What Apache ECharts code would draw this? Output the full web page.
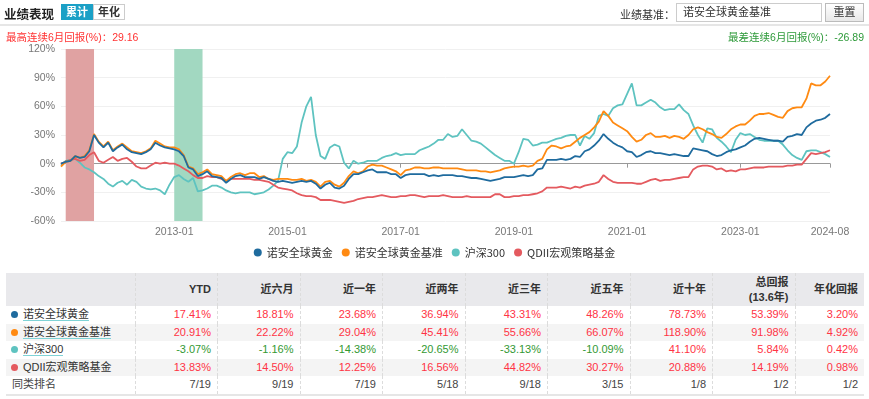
<!DOCTYPE html>
<html>
<head>
<meta charset="utf-8">
<script src="https://cdn.jsdelivr.net/npm/echarts@6/dist/echarts.min.js"></script>
<style>
  body { margin: 0; background: #fff; }
  #page { position: relative; width: 869px; height: 399px; overflow: hidden; background: #fff;
          font-family: 'Liberation Sans', Arial, 'Noto Sans CJK SC', sans-serif; color: #333; }
  #chart { position: absolute; left: 0; top: 0; width: 869px; height: 268px; }
  .abs { position: absolute; white-space: nowrap; }
  .title { left: 4px; top: 4px; font-size: 12.5px; font-weight: bold; color: #222; }
  .tab { top: 4px; width: 32px; height: 16px; line-height: 16px; text-align: center; font-size: 11px; font-weight: bold; box-sizing: border-box; }
  .tab.on { left: 61px; background: #1ba0c6; color: #fff; }
  .tab.off { left: 93px; border: 1px solid #ccc; color: #333; line-height: 14px; }
  .benchLabel { left: 620px; top: 6px; font-size: 11px; color: #333; }
  .benchInput { left: 676px; top: 3px; width: 146px; height: 19px; border: 1px solid #ccc; box-sizing: border-box;
                font-size: 11px; line-height: 17px; padding-left: 6px; color: #333; }
  .resetBtn { left: 825px; top: 3px; width: 39px; height: 19px; border: 1px solid #bbb; box-sizing: border-box;
              background: linear-gradient(#fff, #e8e8e8); font-size: 11px; line-height: 17px; text-align: center; color: #333; }
  .sep { left: 0; top: 24px; width: 869px; height: 2px; background: #e6e6e6; }
  .maxRet { left: 6px; top: 29px; font-size: 10.5px; color: #ff3333; }
  .minRet { right: 5px; top: 29px; font-size: 10.5px; color: #2e9a3a; }
  table { position: absolute; left: 6px; top: 273px; width: 858px; border-collapse: collapse; table-layout: fixed; font-size: 11px; }
  th { background: #e9e9ec; height: 33px; font-weight: bold; color: #333; text-align: right; padding: 0 6px; line-height: 15px; }
  td { height: 17.5px; padding: 0 6px; text-align: right; line-height: 17px; }
  th + th, td + td { border-left: 1px dashed #dcdcdc; }
  tbody tr:nth-child(even) td { background: #f4f4f4; }
  tbody tr:last-child td { border-bottom: 2px solid #e6e6e6; color: #444; }
  td.name { text-align: left; padding-left: 5px; }
  .dot { display: inline-block; width: 7px; height: 7px; border-radius: 50%; margin-right: 5px; vertical-align: 0px; }
  .link { border-bottom: 1.5px solid #7fd3d6; }
  .up { color: #ff3344; }
  .down { color: #339933; }
</style>
</head>
<body>
<div id="page">
  <div id="chart"></div>
  <div class="abs title">业绩表现</div>
  <div class="abs tab on">累计</div>
  <div class="abs tab off">年化</div>
  <div class="abs benchLabel">业绩基准：</div>
  <div class="abs benchInput">诺安全球黄金基准</div>
  <div class="abs resetBtn">重置</div>
  <div class="abs sep"></div>
  <div class="abs maxRet">最高连续6月回报(%)：29.16</div>
  <div class="abs minRet">最差连续6月回报(%)：-26.89</div>
  <table id="perf"></table>
</div>
<script>
// 月度累计收益(%)，2011-01 ~ 2024-08
var goldFund = [0,2,3,8,6,7,13,30,22,17,22,13,17,20,15,12,11,10,12,15,22,19,17,16,15,13,8,-4,-6,-13,-11,-8,-13,-14,-15,-20,-16,-13,-12,-14,-14,
  -14,-16,-14,-16,-18,-19,-18,-19,-20,-19,-18,-19,-18,-21,-26,-22,-20,-25,-26,-23,-16,-11,-11,-9,-7,-6,-9,-9,-9,-11,-11,-15,-12,-11,-11,-11,-11,-13,-12,-13,-12,
  -12,-12,-13,-13,-14,-15,-15,-16,-17,-18,-17,-16,-14,-14,-14,-13,-12,-13,-12,-6,-5,4,4,4,5,4,5,8,7,13,15,19,24,31,26,22,19,17,13,12,
  7,9,12,13,11,11,10,9,10,9,8,8,16,15,14,13,10,8,9,12,14,15,17,19,23,26,27,26,25,24,24,23,28,29,31,30,38,42,45,46,48,52];
var goldBench = [-3,2,3,8,6,8,14,31,23,18,23,14,18,21,17,13,12,11,13,16,24,21,18,17,17,15,9,-3,-5,-11,-9,-6,-11,-12,-13,-18,-14,-11,-10,-12,-10,
  -10,-14,-13,-16,-17,-16,-16,-16,-17,-17,-16,-18,-17,-19,-24,-19,-18,-22,-24,-20,-13,-8,-10,-8,-3,-1,-2,-2,-4,-6,-8,-12,-7,-6,-4,-4,-5,-5,-4,-4,-5,
  -5,-5,-5,-6,-7,-7,-7,-8,-8,-9,-8,-7,-5,-4,-3,-3,-2,-3,-2,3,5,15,19,18,16,18,19,23,27,30,33,38,44,55,50,43,40,37,34,28,
  23,25,30,32,28,28,29,27,29,28,26,30,36,38,36,33,31,28,27,31,36,39,41,41,45,50,52,52,53,51,49,48,55,58,59,59,68,84,82,82,86,92];
var hs300 = [-2,3,4,5,1,-4,-6,-9,-13,-16,-21,-24,-20,-18,-22,-17,-19,-24,-26,-27,-26,-28,-32,-22,-14,-12,-16,-19,-15,-29,-28,-26,-23,-23,-25,-28,-30,-31,-30,-30,-30,
  -32,-31,-30,-27,-23,-18,5,12,11,18,43,60,70,30,8,5,17,20,18,1,-5,3,0,1,3,3,3,6,8,9,11,9,10,10,10,14,16,18,21,25,25,
  31,28,29,36,30,24,23,21,17,13,9,6,3,3,0,12,26,25,19,20,22,22,24,26,27,29,30,30,19,29,26,32,50,52,50,58,61,62,73,84,
  61,61,64,67,64,59,56,57,57,62,56,52,40,30,22,37,36,27,23,18,12,25,32,30,31,28,25,24,24,24,24,20,14,9,6,4,13,14,14,12,10,7];
var qdiiMacro = [0,2,4,5,3,4,9,12,3,1,4,7,3,5,6,2,-3,-5,-5,-2,1,0,1,0,0,-2,-5,-8,-12,-15,-15,-13,-14,-14,-16,-18,-16,-16,-16,-16,-16,
  -17,-17,-18,-19,-22,-25,-26,-27,-28,-31,-33,-34,-34,-35,-38,-38,-38,-39,-40,-41,-40,-39,-37,-36,-35,-35,-34,-33,-34,-35,-35,-34,-34,-33,-33,-34,-35,-34,-34,-34,-33,
  -34,-35,-35,-35,-34,-35,-35,-35,-35,-35,-32,-32,-35,-35,-34,-34,-33,-33,-32,-31,-29,-25,-25,-25,-24,-25,-26,-24,-25,-23,-22,-21,-19,-12,-16,-19,-20,-20,-20,-20,
  -21,-21,-19,-17,-16,-18,-17,-17,-16,-15,-14,-14,-6,-3,-2,-2,-3,-6,-5,-8,-7,-8,-6,-6,-5,-4,-4,-4,-3,-3,-3,-3,-2,-2,-1,-1,5,11,10,11,12,14];

var seriesNames = ['诺安全球黄金', '诺安全球黄金基准', '沪深300', 'QDII宏观策略基金'];
var seriesColors = ['#1f6b9e', '#ff8a12', '#5ec3c0', '#e45a5f'];
var seriesZ = [6, 5, 3, 4];
var tickLabels = ['2013-01', '2015-01', '2017-01', '2019-01', '2021-01', '2023-01', '2024-08'];
var bestPeriod = ['2011-02', '2011-08'];
var worstPeriod = ['2013-01', '2013-07'];

// 表格
var tableCols = ['YTD', '近六月', '近一年', '近两年', '近三年', '近五年', '近十年', '总回报<br>(13.6年)', '年化回报'];
var goldFundRet = [17.41, 18.81, 23.68, 36.94, 43.31, 48.26, 78.73, 53.39, 3.20];
var goldBenchRet = [20.91, 22.22, 29.04, 45.41, 55.66, 66.07, 118.90, 91.98, 4.92];
var hs300Ret = [-3.07, -1.16, -14.38, -20.65, -33.13, -10.09, 41.10, 5.84, 0.42];
var qdiiMacroRet = [13.83, 14.50, 12.25, 16.56, 44.82, 30.27, 20.88, 14.19, 0.98];
var rankRow = ['7/19', '9/19', '7/19', '5/18', '9/18', '3/15', '1/8', '1/2', '1/2'];

// 月份
var months = [];
for (var i = 0; i < goldFund.length; i++) {
  var y = 2011 + Math.floor(i / 12), m = (i % 12) + 1;
  months.push(y + '-' + (m < 10 ? '0' + m : m));
}

var chart = echarts.init(document.getElementById('chart'));
var allData = [goldFund, goldBench, hs300, qdiiMacro];
var series = allData.map(function (d, k) {
  return {
    name: seriesNames[k],
    type: 'line',
    data: d,
    z: seriesZ[k],
    symbol: 'none',
    lineStyle: { width: 1.8, color: seriesColors[k] },
    itemStyle: { color: seriesColors[k] },
    emphasis: { disabled: true }
  };
});
// 最高/最差连续6月区间
series.push({
  name: 'period',
  type: 'line',
  data: [],
  z: 1,
  markArea: {
    silent: true,
    data: [
      [{ xAxis: bestPeriod[0], itemStyle: { color: '#e0a2a2' } }, { xAxis: bestPeriod[1] }],
      [{ xAxis: worstPeriod[0], itemStyle: { color: '#a2d8c1' } }, { xAxis: worstPeriod[1] }]
    ]
  }
});

chart.setOption({
  animation: false,
  grid: { left: 61, right: 39, top: 49, bottom: 47 },
  legend: {
    data: seriesNames,
    bottom: 5,
    left: 'center',
    icon: 'circle',
    itemWidth: 8,
    itemHeight: 8,
    itemGap: 9,
    textStyle: { fontSize: 11, color: '#333', fontFamily: 'Noto Sans CJK SC' }
  },
  xAxis: {
    type: 'category',
    data: months,
    boundaryGap: false,
    axisLine: { lineStyle: { color: '#999' } },
    axisTick: {
      length: 4,
      lineStyle: { color: '#999' },
      interval: function (idx, val) { return tickLabels.indexOf(val) >= 0; }
    },
    axisLabel: {
      color: '#777',
      fontSize: 10.5,
      margin: 6,
      interval: function (idx, val) { return tickLabels.indexOf(val) >= 0; }
    },
    splitLine: { show: false }
  },
  yAxis: {
    type: 'value',
    min: -60,
    max: 120,
    interval: 30,
    axisLine: { show: false },
    axisTick: { show: false },
    axisLabel: { formatter: '{value}%', color: '#777', fontSize: 10.5, margin: 6 },
    splitLine: { lineStyle: { color: '#f0f0f0' } }
  },
  series: series
});

// 表格绘制
function fmt(v) {
  return '<span class="' + (v < 0 ? 'down' : 'up') + '">' + v.toFixed(2) + '%</span>';
}
var html = '<colgroup><col style="width:129px">';
for (var c = 0; c < 8; c++) html += '<col style="width:82.5px">';
html += '<col style="width:69px"></colgroup>';
html += '<thead><tr><th></th>';
tableCols.forEach(function (t) { html += '<th>' + t + '</th>'; });
html += '</tr></thead><tbody>';
var rets = [goldFundRet, goldBenchRet, hs300Ret, qdiiMacroRet];
rets.forEach(function (r, k) {
  var nm = k < 3 ? '<span class="link">' + seriesNames[k] + '</span>' : seriesNames[k];
  html += '<tr><td class="name"><span class="dot" style="background:' + seriesColors[k] + '"></span>' + nm + '</td>';
  r.forEach(function (v) { html += '<td>' + fmt(v) + '</td>'; });
  html += '</tr>';
});
html += '<tr><td class="name" style="padding-left:6px">同类排名</td>';
rankRow.forEach(function (v) { html += '<td>' + v + '</td>'; });
html += '</tr></tbody>';
document.getElementById('perf').innerHTML = html;
</script>
</body>
</html>
